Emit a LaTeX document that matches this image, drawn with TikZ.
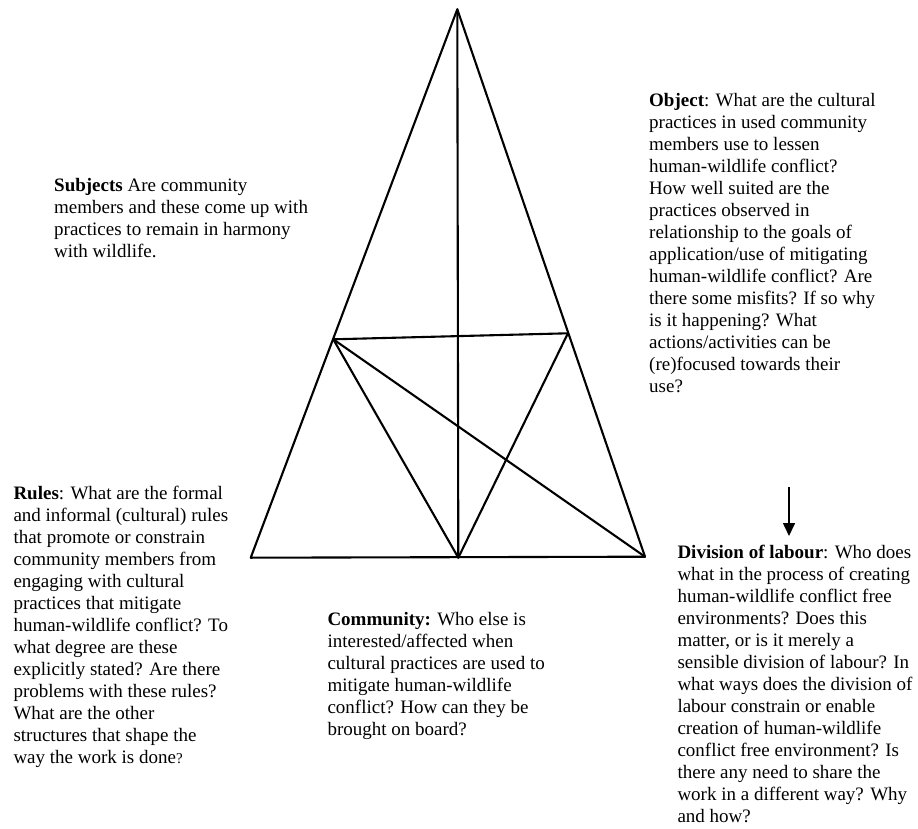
\documentclass[tikz,border=0pt]{standalone}
\usepackage{fontspec}
\setmainfont{Liberation Serif}
\usetikzlibrary{arrows.meta}
\begin{document}
\begin{tikzpicture}[x=1pt,y=-1pt,
  edge/.style={line width=2.1pt,line cap=round,line join=round},
  txt/.style={anchor=north west,inner sep=0pt,align=left,font=\fontsize{19}{22}\selectfont}]
\useasboundingbox (0,0) rectangle (918,829);
% triangle points
\coordinate (apex) at (457.3,9.3);
\coordinate (bl) at (250.7,557.7);
\coordinate (bm) at (458.3,557.7);
\coordinate (br) at (645,556.7);
\coordinate (ml) at (333.3,339.3);
\coordinate (mr) at (567.9,333.3);
\draw[edge] (apex) -- (bl) -- (br) -- cycle;
\draw[edge] (apex) -- (bm);
\draw[edge] (ml) -- (mr);
\draw[edge] (ml) -- (bm);
\draw[edge] (ml) -- (br);
\draw[edge] (mr) -- (bm);
% arrow
\coordinate (arrA) at (789,487);
\coordinate (arrB) at (789,536);
\draw[line width=1.6pt,-{Triangle[width=12pt,length=13pt]}] (arrA) -- (arrB);
% texts
\node[txt] (subj) at (54,{191-15.4}) {\strut\textbf{Subjects} Are community\\members and these come up with\\practices to remain in harmony\\with wildlife.};
\node[txt] (obj) at (649,{106.7-15.4}) {\strut\textbf{Object}: What are the cultural\\practices in used community\\members use to lessen\\human-wildlife conflict?\\How well suited are the\\practices observed in\\relationship to the goals of\\application/use of mitigating\\human-wildlife conflict? Are\\there some misfits? If so why\\is it happening? What\\actions/activities can be\\(re)focused towards their\\use?};
\node[txt] (rules) at (13.3,{499-15.4}) {\strut\textbf{Rules}: What are the formal\\and informal (cultural) rules\\that promote or constrain\\community members from\\engaging with cultural\\practices that mitigate\\human-wildlife conflict? To\\what degree are these\\explicitly stated? Are there\\problems with these rules?\\What are the other\\structures that shape the\\way the work is done{\fontsize{15}{22}\selectfont ?}};
\node[txt] (comm) at (327.3,{625-15.4}) {\strut\textbf{Community:} Who else is\\interested/affected when\\cultural practices are used to\\mitigate human-wildlife\\conflict? How can they be\\brought on board?};
\node[txt] (div) at (677.3,{558.3-15.4}) {\strut\textbf{Division of labour}: Who does\\what in the process of creating\\human-wildlife conflict free\\environments? Does this\\matter, or is it merely a\\sensible division of labour? In\\what ways does the division of\\labour constrain or enable\\creation of human-wildlife\\conflict free environment? Is\\there any need to share the\\work in a different way? Why\\and how?};
\end{tikzpicture}
\end{document}
